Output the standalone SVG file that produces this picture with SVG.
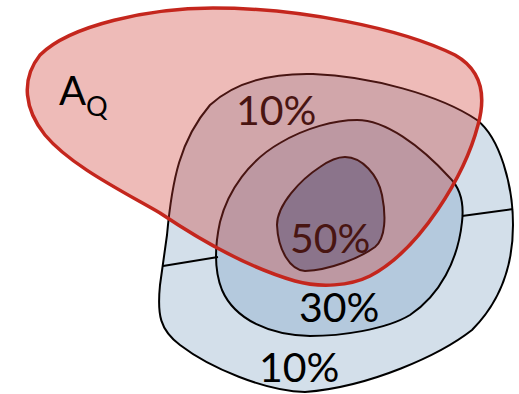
<svg xmlns="http://www.w3.org/2000/svg" width="519" height="394" viewBox="0 0 519 394">
<style>
.zone{stroke:#000;stroke-width:2;stroke-linejoin:round}
.lbl{font-family:Lato,"Liberation Sans",sans-serif;font-size:41px;fill:#000}
.div{stroke:#000;stroke-width:2;fill:none}
</style>
<rect width="519" height="394" fill="#fff"/>
<g id="zone-outer">
<path class="zone" fill="#d3dfea" d="M313,74 C370,76 440,95 477,120 C500,138 513,185 513,225 C513,265 502,300 472,330 C440,355 370,387 305,392 C265,391 210,368 180,345 C160,330 157,315 160,285 L167,235 C172,180 180,140 210,105 C235,82 270,73 313,74 Z"/>
</g>
<g id="zone-middle">
<path class="zone" fill="#b4c9dd" d="M357,120 C385,120 420,145 450,178 C462,190 464,205 462,222 C458,260 440,295 410,315 C385,330 340,336 310,336 C270,335 235,320 222,290 C214,270 215,245 220,222 C228,190 250,160 280,143 C305,128 335,120 357,120 Z"/>
</g>
<g id="zone-inner">
<path class="zone" fill="#6893bb" d="M345,157 C362,157 378,175 382,195 C386,215 386,238 375,247 C360,258 330,270 305,271 C290,270 278,250 277,225 C277,205 300,180 320,167 C330,160 337,157 345,157 Z"/>
</g>
<g id="connectors">
<line class="div" x1="163" y1="266" x2="218" y2="257"/>
<line class="div" x1="462" y1="216" x2="513" y2="209"/>
</g>
<g id="labels">
<text class="lbl" x="236" y="125">10%</text>
<text class="lbl" x="290" y="253">50%</text>
<text class="lbl" x="299" y="322">30%</text>
<text class="lbl" x="259" y="382">10%</text>
</g>
<g id="region-AQ">
<path fill="#ce3d34" fill-opacity="0.35" stroke="#c4261d" stroke-width="3.5" d="M213,8 C300,8 400,28 455,55 C485,72 485,100 478,125 C465,175 420,250 370,276 C350,286 320,288 295,281 C250,268 200,240 160,213 C120,190 70,165 45,135 C25,110 20,80 40,55 C70,25 150,8 213,8 Z"/>
<text font-family="Lato,'Liberation Sans',sans-serif" font-size="40" x="59" y="105" fill="#000">A<tspan font-size="27" dy="11">Q</tspan></text>
</g>
</svg>
